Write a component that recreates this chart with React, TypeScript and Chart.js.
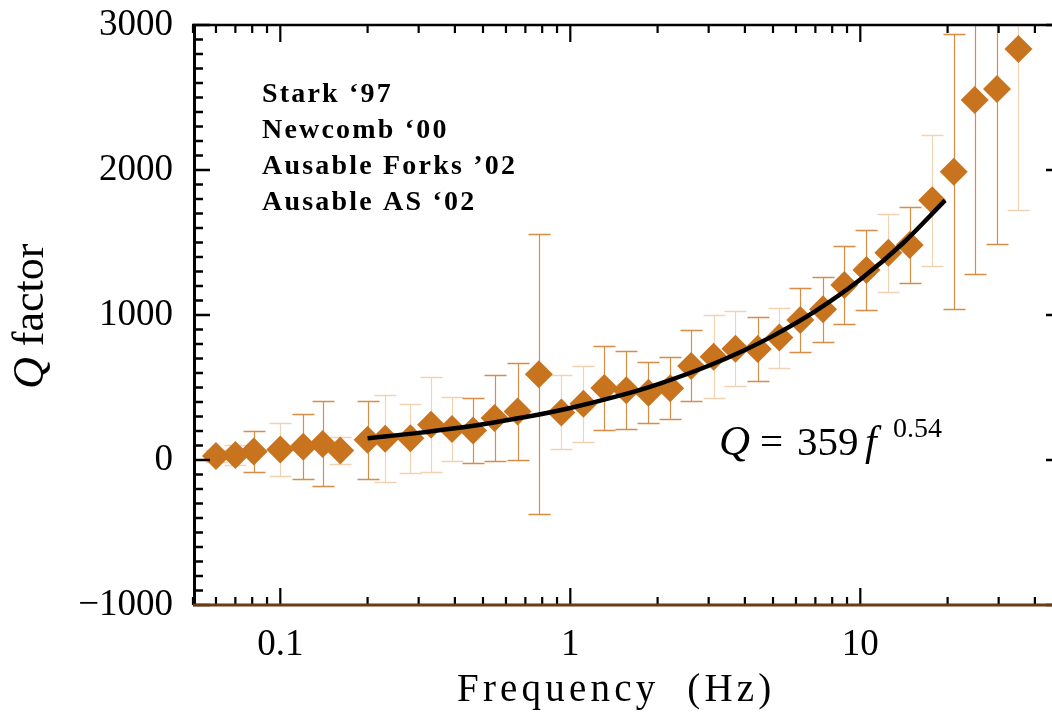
import React, { useEffect, useRef } from "react";
import { Chart, registerables } from "chart.js";

Chart.register(...registerables);

// ---- data ----
const freq = [
  0.06, 0.07, 0.081, 0.1, 0.12, 0.14, 0.161, 0.2, 0.23, 0.281, 0.331, 0.391, 0.462, 0.548,
  0.658, 0.779, 0.931, 1.11, 1.31, 1.56, 1.86, 2.21, 2.61, 3.12, 3.71, 4.43, 5.26, 6.21,
  7.44, 8.81, 10.5, 12.5, 14.8, 17.7, 21.0, 24.8, 29.6, 35.1,
];
const qValues = [
  28, 34, 59, 72, 92, 111, 66, 139, 147, 150, 243, 213, 203, 290, 335, 592, 328, 388, 496,
  481, 463, 495, 649, 712, 768, 766, 844, 966, 1039, 1207, 1310, 1430, 1483, 1792, 1988,
  2483, 2559, 2834,
];
const qErrors = [
  40, 68, 140, 180, 224, 293, 93, 271, 302, 239, 326, 223, 226, 297, 333, 966, 255, 262, 288,
  268, 211, 213, 245, 287, 259, 221, 207, 223, 224, 268, 275, 268, 259, 452, 948, 1202, 1071,
  1110,
];
// which error bars are drawn in the pale tone (style only)
const paleBars = [
  1, 1, 0, 1, 0, 0, 1, 0, 1, 1, 1, 1, 0, 0, 0, 0, 1, 1, 0, 0, 0, 0, 0, 1, 1, 0, 1, 0, 0, 0, 0,
  1, 0, 1, 0, 0, 0, 1,
];
// fitted curve Q = 359 f^0.54
const fitFreq = [0.2, 0.3, 0.4, 0.5, 0.7, 1, 1.5, 2, 3, 4, 5, 7, 10, 14, 19.6];
const fitQ = [150, 187, 219, 247, 296, 359, 447, 522, 650, 759, 856, 1027, 1245, 1493, 1790];

const xTickValues = [0.1, 1, 10];
const yTickValues = [-1000, 0, 1000, 2000, 3000];
const legendLines = ["Stark \u201897", "Newcomb \u201800", "Ausable Forks \u201902", "Ausable AS \u201802"];

const SERIF = "'Liberation Serif', 'Times New Roman', serif";
const DIAMOND = "#c8741f";
const BAR_DARK = "#d98c45";
const BAR_PALE = "#f1d3b3";
const BROWN = "#6e3b12";

const framePlugin = {
  id: "frame",
  beforeDatasetsDraw(chart: any) {
    const { ctx, chartArea: a, scales } = chart;
    const x = scales.x;
    const y = scales.y;
    ctx.save();
    ctx.beginPath();
    ctx.rect(a.left, a.top, a.right - a.left, a.bottom - a.top);
    ctx.clip();
    freq.forEach((f, i) => {
      const px = Math.round(x.getPixelForValue(f)) + 0.5;
      const top = Math.round(y.getPixelForValue(qValues[i] + qErrors[i])) + 0.5;
      const bot = Math.round(y.getPixelForValue(qValues[i] - qErrors[i])) + 0.5;
      ctx.strokeStyle = paleBars[i] ? BAR_PALE : BAR_DARK;
      ctx.lineWidth = 1.2;
      ctx.beginPath();
      ctx.moveTo(px, top);
      ctx.lineTo(px, bot);
      ctx.stroke();
      ctx.lineWidth = 1.6;
      ctx.beginPath();
      ctx.moveTo(px - 11, top);
      ctx.lineTo(px + 11, top);
      ctx.moveTo(px - 11, bot);
      ctx.lineTo(px + 11, bot);
      ctx.stroke();
    });
    ctx.restore();
  },
  afterDraw(chart: any) {
    const { ctx, chartArea: a, scales } = chart;
    const x = scales.x;
    const y = scales.y;
    const L = a.left;
    const R = a.right;
    const T = a.top;
    const B = a.bottom;
    ctx.save();
    // x ticks (top and bottom, inward)
    ctx.strokeStyle = "#000";
    ctx.lineWidth = 2.2;
    const xmin = x.min;
    const xmax = x.max;
    for (let e = -2; e <= 2; e++) {
      for (let m = 1; m <= 9; m++) {
        const v = m * Math.pow(10, e);
        if (v < xmin * 0.999 || v > xmax * 1.001) continue;
        const px = x.getPixelForValue(v);
        const len = m === 1 ? 17 : 8;
        ctx.beginPath();
        ctx.moveTo(px, T);
        ctx.lineTo(px, T + len);
        ctx.moveTo(px, B);
        ctx.lineTo(px, B - len);
        ctx.stroke();
      }
    }
    // y ticks (left and right, inward)
    ctx.lineWidth = 2.4;
    for (let k = -10; k <= 30; k++) {
      const v = k * 100;
      const py = y.getPixelForValue(v);
      const len = k % 10 === 0 ? 17 : 10;
      ctx.beginPath();
      ctx.moveTo(L, py);
      ctx.lineTo(L + len, py);
      ctx.moveTo(R, py);
      ctx.lineTo(R - len, py);
      ctx.stroke();
    }
    // frame lines
    ctx.strokeStyle = "#000";
    ctx.lineWidth = 2.5;
    ctx.beginPath();
    ctx.moveTo(L - 1, T);
    ctx.lineTo(R + 1, T);
    ctx.moveTo(R, T);
    ctx.lineTo(R, B);
    ctx.stroke();
    ctx.lineWidth = 3;
    ctx.beginPath();
    ctx.moveTo(L + 1.5, T - 1);
    ctx.lineTo(L + 1.5, B);
    ctx.stroke();
    ctx.strokeStyle = BROWN;
    ctx.lineWidth = 3;
    ctx.beginPath();
    ctx.moveTo(L, B);
    ctx.lineTo(R, B);
    ctx.stroke();

    // legend text
    ctx.fillStyle = "#000";
    ctx.textAlign = "left";
    ctx.textBaseline = "alphabetic";
    ctx.font = `bold 28px ${SERIF}`;
    (ctx as any).letterSpacing = "2.2px";
    legendLines.forEach((t, i) => {
      ctx.fillText(t, 262, 102 + i * 36);
    });

    // equation
    (ctx as any).letterSpacing = "0px";
    ctx.font = `italic 43px ${SERIF}`;
    ctx.fillText("Q", 719, 455);
    ctx.font = `41px ${SERIF}`;
    ctx.fillText("=", 760, 455);
    ctx.fillText("359", 797, 455);
    ctx.font = `italic 42px ${SERIF}`;
    ctx.fillText("f", 865, 455);
    ctx.font = `28px ${SERIF}`;
    ctx.fillText("0.54", 893, 437);

    // x title
    ctx.font = `39px ${SERIF}`;
    (ctx as any).letterSpacing = "4.2px";
    ctx.fillText("Frequency  (Hz)", 457, 701);

    // y title
    (ctx as any).letterSpacing = "0px";
    ctx.translate(43, 389);
    ctx.rotate(-Math.PI / 2);
    ctx.font = `italic 44px ${SERIF}`;
    ctx.fillText("Q", 0, 0);
    const qw = ctx.measureText("Q").width;
    ctx.font = `44px ${SERIF}`;
    ctx.fillText(" factor", qw, 0);
    ctx.restore();
  },
};

export default function App() {
  const ref = useRef<HTMLCanvasElement | null>(null);
  useEffect(() => {
    if (!ref.current) return;
    const chart = new Chart(ref.current, {
      type: "scatter",
      data: {
        datasets: [
          {
            label: "Q factor",
            data: freq.map((f, i) => ({ x: f, y: qValues[i] })),
            pointStyle: "rectRot",
            pointRadius: 14,
            pointHoverRadius: 14,
            backgroundColor: DIAMOND,
            borderColor: DIAMOND,
            borderWidth: 0,
            showLine: false,
            order: 2,
          },
          {
            label: "fit",
            data: fitFreq.map((f, i) => ({ x: f, y: fitQ[i] })),
            showLine: true,
            borderColor: "#000",
            borderWidth: 4.5,
            pointRadius: 0,
            cubicInterpolationMode: "monotone",
            order: 1,
          },
        ],
      } as any,
      options: {
        animation: false,
        responsive: false,
        maintainAspectRatio: false,
        layout: { padding: { left: 0, right: 17, top: 25, bottom: 0 } },
        plugins: { legend: { display: false }, tooltip: { enabled: false } },
        scales: {
          x: {
            type: "logarithmic",
            min: 0.05,
            max: 50,
            grid: { display: false, drawTicks: false },
            border: { display: false },
            afterBuildTicks: (s: any) => {
              s.ticks = xTickValues.map((v) => ({ value: v }));
            },
            afterFit: (s: any) => {
              s.height = 110;
              s.paddingLeft = 0;
              s.paddingRight = 0;
            },
            ticks: {
              autoSkip: false,
              maxRotation: 0,
              padding: 18,
              color: "#000",
              font: { family: SERIF, size: 37 },
              callback: (v: any) => String(v),
            },
          },
          y: {
            type: "linear",
            min: -1000,
            max: 3000,
            grid: { display: false, drawTicks: false },
            border: { display: false },
            afterBuildTicks: (s: any) => {
              s.ticks = yTickValues.map((v) => ({ value: v }));
            },
            afterFit: (s: any) => {
              s.width = 193;
              s.paddingTop = 0;
              s.paddingBottom = 0;
            },
            ticks: {
              padding: 20,
              color: "#000",
              font: { family: SERIF, size: 37 },
              callback: (v: any) => (v < 0 ? "\u2212" + Math.abs(v) : String(v)),
            },
          },
        },
      } as any,
      plugins: [framePlugin],
    });
    return () => chart.destroy();
  }, []);

  return (
    <div
      style={{
        position: "fixed",
        left: 0,
        top: 0,
        width: 1052,
        height: 715,
        overflow: "hidden",
        background: "#fff",
      }}
    >
      <canvas ref={ref} width={1080} height={715} style={{ display: "block", width: 1080, height: 715 }} />
    </div>
  );
}
